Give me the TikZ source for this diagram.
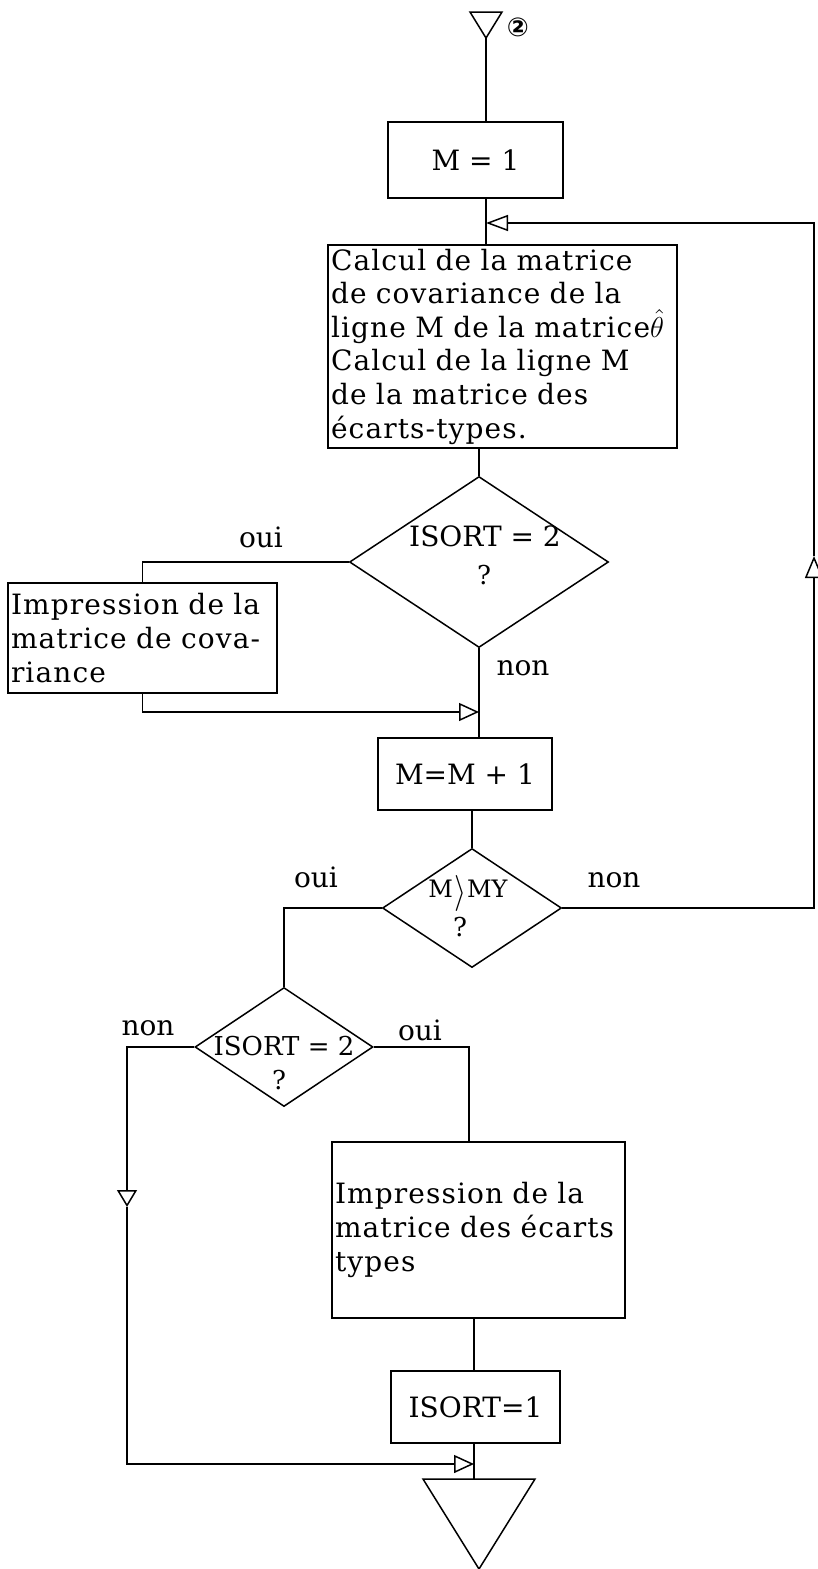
\documentclass[tikz,border=0pt]{standalone}
\usepackage{fontspec}
\setmainfont{DejaVu Serif}
\newfontfamily\symfont{DejaVu Sans}
\newfontfamily\widefont[LetterSpace=4]{DejaVu Serif}
\usepackage{graphicx}
\usetikzlibrary{shapes.geometric,arrows.meta}
\begin{document}
\begin{tikzpicture}[x=0.5pt,y=-0.5pt,line width=0.75pt,
  every node/.style={font=\fontsize{14}{16.8}\selectfont},
  box/.style={draw,rectangle,inner sep=0pt},
  textbox/.style={draw,rectangle,align=left,inner xsep=1.5pt,inner ysep=0pt,
    font=\widefont\fontsize{14}{16.8}\selectfont},
  dia/.style={draw,diamond,inner sep=0pt},
  lbl/.style={inner sep=0pt},
  dtext/.style={inner sep=0pt,font=\fontsize{13}{15}\selectfont},
  arrL/.style={-{Triangle[open,length=11pt,width=8pt]}},
  arrR/.style={-{Triangle[open,length=10pt,width=9pt]}},
  arrU/.style={-{Triangle[open,length=11pt,width=9pt]}},
  arrD/.style={-{Triangle[open,length=8.5pt,width=10pt]}}]
\useasboundingbox (0,0) rectangle (818,1569);

% top connector triangle
\coordinate (tl) at (470,12);
\coordinate (tr) at (502,12);
\coordinate (topapex) at (486,38);
\draw (tl) -- (tr) -- (topapex) -- cycle;
\node[lbl,font=\symfont\fontsize{13}{13}\selectfont\bfseries] (circ) at (518,27) {②};

% boxes
\node[box,minimum width=87.5pt,minimum height=38pt] (m1) at (475.5,160) {M = 1};
\node[textbox,text width=171.5pt,minimum width=174.5pt,minimum height=101.5pt] (calc) at (502.5,346.5)
 {\mbox{Calcul de la matrice}\\\mbox{de covariance de la}\\\mbox{ligne M de la matrice$\hat{\theta}$}\\\mbox{Calcul de la ligne M}\\\mbox{de la matrice des}\\\mbox{écarts-types.}};
\node[dia,minimum width=129.5pt,minimum height=85.5pt] (d1) at (479,562) {};
\node[dtext,font=\fontsize{14}{16}\selectfont] (d1t) at (485,536) {ISORT = 2};
\node[dtext] (d1q) at (484,575) {?};
\node[textbox,text width=131.5pt,minimum width=134.5pt,minimum height=55pt] (imp1) at (142.5,638)
 {\mbox{Impression de la}\\\mbox{matrice de cova-}\\\mbox{riance}};
\node[box,minimum width=87pt,minimum height=36pt] (m2) at (465,774) {M=M + 1};
\node[dia,minimum width=89.5pt,minimum height=59.5pt] (d2) at (472,908) {};
\node[dtext,font=\fontsize{12}{14}\selectfont] (d2t) at (468,893)
 {M\hspace{0.5pt}\raisebox{-2.5pt}{\scalebox{1.3}[1.5]{$\rangle$}}\hspace{0.5pt}MY};
\node[dtext] (d2q) at (460,927) {?};
\node[dia,minimum width=89pt,minimum height=59.5pt] (d3) at (284,1047) {};
\node[dtext] (d3t) at (284,1046) {ISORT = 2};
\node[dtext] (d3q) at (279,1080) {?};
\node[textbox,text width=143.5pt,minimum width=146.5pt,minimum height=88pt] (box2) at (478.5,1230)
 {\mbox{Impression de la}\\\mbox{matrice des écarts}\\\mbox{types}};
\node[box,minimum width=84.5pt,minimum height=36pt] (isort1) at (475.5,1407) {ISORT=1};

% labels
\node[lbl] (l1) at (261,537) {oui};
\node[lbl] (l2) at (523,668) {non};
\node[lbl] (l3) at (316,877) {oui};
\node[lbl] (l4) at (614,880) {non};
\node[lbl] (l5) at (148,1028) {non};
\node[lbl] (l6) at (420,1030) {oui};

% bottom connector triangle
\coordinate (bl) at (423,1479);
\coordinate (br) at (535,1479);
\coordinate (bapex) at (479,1569);
\draw (bl) -- (br) -- (bapex) -- cycle;

% helper coordinates
\coordinate (loopBR) at (814,908);
\coordinate (upTip) at (814,556);
\coordinate (loopTR) at (814,223);
\coordinate (join1) at (479,712);
\coordinate (downTip) at (127,1207);
\coordinate (join2) at (474,1464);
\coordinate (b2in) at (469,1142);

% connectors
\draw (topapex) -- (topapex |- m1.north);
\draw (topapex |- m1.south) -- (topapex |- calc.north);
\draw (calc.south -| d1.north) -- (d1.north);
\draw (d1.west) -| (imp1.north);
\draw[arrR] (imp1.south) |- (join1);
\draw (d1.south) -- (d1.south |- m2.north);
\draw (m2.south -| d2.north) -- (d2.north);
\draw[arrU] (d2.east) -- (loopBR) -- (upTip);
\draw[arrL] (upTip) -- (loopTR) -- (loopTR -| topapex);
\draw (d2.west) -| (d3.north);
\draw[arrD] (d3.west) -| (downTip);
\draw[arrR] (downTip) |- (join2);
\draw (d3.east) -| (b2in);
\draw (box2.south -| join2) -- (isort1.north -| join2);
\draw (isort1.south -| join2) -- (join2 |- bl);
\end{tikzpicture}
\end{document}
